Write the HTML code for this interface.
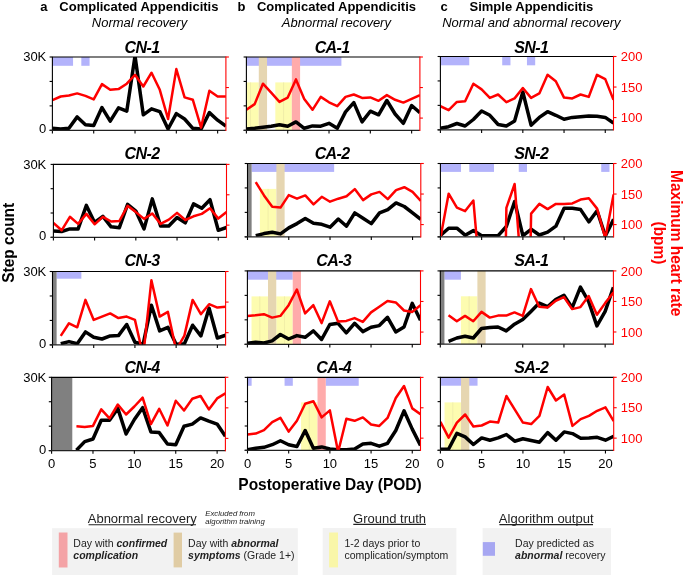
<!DOCTYPE html><html><head><meta charset="utf-8"><style>html,body{margin:0;padding:0;background:#fff}svg{display:block;will-change:transform}text{font-family:"Liberation Sans",sans-serif}</style></head><body>
<svg width="685" height="575" viewBox="0 0 685 575">
<rect width="685" height="575" fill="#fff"/>
<defs>
<clipPath id="c0"><rect x="52.4" y="57" width="173.5" height="73.3"/></clipPath>
<clipPath id="c1"><rect x="246.4" y="57" width="173.5" height="73.3"/></clipPath>
<clipPath id="c2"><rect x="440.4" y="56.5" width="173.1" height="73.3"/></clipPath>
<clipPath id="c3"><rect x="53.4" y="164.4" width="173.1" height="72.9"/></clipPath>
<clipPath id="c4"><rect x="247.5" y="163.5" width="173.3" height="73.3"/></clipPath>
<clipPath id="c5"><rect x="440.4" y="163.5" width="173.2" height="73.3"/></clipPath>
<clipPath id="c6"><rect x="52.5" y="271.5" width="173.1" height="73.4"/></clipPath>
<clipPath id="c7"><rect x="247.4" y="270.9" width="173.1" height="73.4"/></clipPath>
<clipPath id="c8"><rect x="440.3" y="270.9" width="173.1" height="73.3"/></clipPath>
<clipPath id="c9"><rect x="51.6" y="377.3" width="173.8" height="73.3"/></clipPath>
<clipPath id="c10"><rect x="247.5" y="377.4" width="173" height="72.9"/></clipPath>
<clipPath id="c11"><rect x="440.4" y="377.3" width="173.3" height="73"/></clipPath>
</defs>
<text x="40.3" y="10.9" font-size="13" font-weight="bold">a</text>
<text x="59.3" y="10.9" font-size="13" font-weight="bold">Complicated Appendicitis</text>
<text x="139.5" y="26.7" font-size="13" font-style="italic" text-anchor="middle">Normal recovery</text>
<text x="237.5" y="10.9" font-size="13" font-weight="bold">b</text>
<text x="256.9" y="10.9" font-size="13" font-weight="bold">Complicated Appendicitis</text>
<text x="336.4" y="26.7" font-size="13" font-style="italic" text-anchor="middle">Abnormal recovery</text>
<text x="440.6" y="10.9" font-size="13" font-weight="bold">c</text>
<text x="469.5" y="10.9" font-size="13" font-weight="bold">Simple Appendicitis</text>
<text x="531.4" y="26.7" font-size="13" font-style="italic" text-anchor="middle">Normal and abnormal recovery</text>
<text x="142.0" y="52.6" font-size="16" letter-spacing="-0.6" font-weight="bold" font-style="italic" text-anchor="middle">CN-1</text>
<rect x="52.4" y="57" width="20.65" height="8.8" fill="#b3b3fb"/>
<rect x="81.32" y="57" width="8.26" height="8.8" fill="#b3b3fb"/>
<g clip-path="url(#c0)" fill="none" stroke-linejoin="round" stroke-linecap="butt">
<path d="M52.4,128.3 L60.66,129 L68.92,128.3 L77.19,116.9 L85.45,124.7 L93.71,125.5 L101.97,107.6 L110.23,121.2 L118.5,107.9 L126.76,111.2 L135.02,56 L143.28,114.8 L151.54,108.8 L159.8,111.6 L168.07,129 L176.33,113.6 L184.59,119 L192.85,128.3 L201.11,129 L209.38,112.6 L217.64,120.2 L225.9,126.2" stroke="#000" stroke-width="3.5"/>
<path d="M52.4,100.2 L60.66,96.5 L68.92,95.5 L77.19,93.4 L85.45,95.9 L93.71,99.4 L101.97,84.1 L110.23,89.8 L118.5,89.1 L126.76,83.7 L135.02,74.8 L143.28,86.5 L151.54,72.7 L159.8,89.8 L168.07,119 L176.33,69.1 L184.59,97.4 L192.85,99.8 L201.11,127.6 L209.38,90.8 L217.64,96.5 L225.9,96.5" stroke="#f00" stroke-width="2.5"/>
</g>
<line x1="51.9" y1="57" x2="225.9" y2="57" stroke="#000" stroke-width="1.2"/>
<line x1="52.4" y1="57" x2="52.4" y2="133.5" stroke="#000" stroke-width="1.1"/>
<line x1="49.6" y1="130.3" x2="52.4" y2="130.3" stroke="#000" stroke-width="1.1"/>
<line x1="49.6" y1="105.87" x2="52.4" y2="105.87" stroke="#000" stroke-width="1.1"/>
<line x1="49.6" y1="81.43" x2="52.4" y2="81.43" stroke="#000" stroke-width="1.1"/>
<line x1="49.6" y1="57" x2="52.4" y2="57" stroke="#000" stroke-width="1.1"/>
<line x1="49.6" y1="130.3" x2="225.9" y2="130.3" stroke="#222" stroke-width="1.2"/>
<line x1="93.71" y1="130.3" x2="93.71" y2="133.5" stroke="#000" stroke-width="1.1"/>
<line x1="135.02" y1="130.3" x2="135.02" y2="133.5" stroke="#000" stroke-width="1.1"/>
<line x1="176.33" y1="130.3" x2="176.33" y2="133.5" stroke="#000" stroke-width="1.1"/>
<line x1="217.64" y1="130.3" x2="217.64" y2="133.5" stroke="#000" stroke-width="1.1"/>
<line x1="225.9" y1="56.4" x2="225.9" y2="130.9" stroke="#f00" stroke-width="1.1"/>
<line x1="225.9" y1="57" x2="228.9" y2="57" stroke="#f00" stroke-width="1.1"/>
<line x1="225.9" y1="87.54" x2="228.9" y2="87.54" stroke="#f00" stroke-width="1.1"/>
<line x1="225.9" y1="118.08" x2="228.9" y2="118.08" stroke="#f00" stroke-width="1.1"/>
<text x="46.3" y="61.4" font-size="13" text-anchor="end">30K</text>
<text x="46.3" y="133.2" font-size="13" text-anchor="end">0</text>
<text x="332.1" y="52.6" font-size="16" letter-spacing="-0.6" font-weight="bold" font-style="italic" text-anchor="middle">CA-1</text>
<rect x="246.4" y="57" width="95.01" height="8.8" fill="#b3b3fb"/>
<rect x="246.4" y="82.4" width="4.13" height="47.9" fill="#fdfcb0"/>
<rect x="250.53" y="82.4" width="8.26" height="47.9" fill="#fdfcb0"/>
<rect x="275.32" y="82.4" width="8.26" height="47.9" fill="#fdfcb0"/>
<rect x="283.58" y="82.4" width="8.26" height="47.9" fill="#fdfcb0"/>
<rect x="258.79" y="57" width="8.26" height="73.3" fill="#e6d6b1"/>
<rect x="291.84" y="57" width="8.26" height="73.3" fill="#ffabab"/>
<line x1="250.53" y1="82.4" x2="250.53" y2="130.3" stroke="#ebe69c" stroke-width="0.7"/>
<line x1="283.58" y1="82.4" x2="283.58" y2="130.3" stroke="#ebe69c" stroke-width="0.7"/>
<g clip-path="url(#c1)" fill="none" stroke-linejoin="round" stroke-linecap="butt">
<path d="M246.4,129 L254.66,128.3 L262.92,127.3 L271.19,126.2 L279.45,124.7 L287.71,126.2 L295.97,121.9 L304.23,128.3 L312.5,125.9 L320.76,126.2 L329.02,123.3 L337.28,128.3 L345.54,111.9 L353.8,102.6 L362.07,121.9 L370.33,111.2 L378.59,114.8 L386.85,100.5 L395.11,114 L403.38,123.3 L411.64,105.5 L419.9,112.6" stroke="#000" stroke-width="3.5"/>
<path d="M246.4,109.8 L254.66,104.1 L262.92,83.7 L271.19,92.7 L279.45,101.9 L287.71,97.6 L295.97,79.4 L304.23,99.1 L312.5,109.8 L320.76,96.9 L329.02,102.3 L337.28,106.2 L345.54,96.9 L353.8,94.5 L362.07,97.9 L370.33,97.4 L378.59,100.8 L386.85,95.1 L395.11,99.8 L403.38,102.6 L411.64,98.8 L419.9,95.1" stroke="#f00" stroke-width="2.5"/>
</g>
<line x1="245.9" y1="57" x2="419.9" y2="57" stroke="#000" stroke-width="1.2"/>
<line x1="246.4" y1="57" x2="246.4" y2="133.5" stroke="#000" stroke-width="1.1"/>
<line x1="243.6" y1="130.3" x2="246.4" y2="130.3" stroke="#000" stroke-width="1.1"/>
<line x1="243.6" y1="105.87" x2="246.4" y2="105.87" stroke="#000" stroke-width="1.1"/>
<line x1="243.6" y1="81.43" x2="246.4" y2="81.43" stroke="#000" stroke-width="1.1"/>
<line x1="243.6" y1="57" x2="246.4" y2="57" stroke="#000" stroke-width="1.1"/>
<line x1="243.6" y1="130.3" x2="419.9" y2="130.3" stroke="#222" stroke-width="1.2"/>
<line x1="287.71" y1="130.3" x2="287.71" y2="133.5" stroke="#000" stroke-width="1.1"/>
<line x1="329.02" y1="130.3" x2="329.02" y2="133.5" stroke="#000" stroke-width="1.1"/>
<line x1="370.33" y1="130.3" x2="370.33" y2="133.5" stroke="#000" stroke-width="1.1"/>
<line x1="411.64" y1="130.3" x2="411.64" y2="133.5" stroke="#000" stroke-width="1.1"/>
<line x1="419.9" y1="56.4" x2="419.9" y2="130.9" stroke="#f00" stroke-width="1.1"/>
<line x1="419.9" y1="57" x2="422.9" y2="57" stroke="#f00" stroke-width="1.1"/>
<line x1="419.9" y1="87.54" x2="422.9" y2="87.54" stroke="#f00" stroke-width="1.1"/>
<line x1="419.9" y1="118.08" x2="422.9" y2="118.08" stroke="#f00" stroke-width="1.1"/>
<text x="531.3" y="52.6" font-size="16" letter-spacing="-0.6" font-weight="bold" font-style="italic" text-anchor="middle">SN-1</text>
<rect x="440.4" y="56.5" width="28.85" height="8.8" fill="#b3b3fb"/>
<rect x="502.22" y="56.5" width="8.24" height="8.8" fill="#b3b3fb"/>
<rect x="526.95" y="56.5" width="8.24" height="8.8" fill="#b3b3fb"/>
<g clip-path="url(#c2)" fill="none" stroke-linejoin="round" stroke-linecap="butt">
<path d="M440.4,128.3 L448.64,126.7 L456.89,123.5 L465.13,126 L473.37,119.5 L481.61,111 L489.86,115.3 L498.1,124.5 L506.34,126 L514.59,121 L522.83,92 L531.07,125.2 L539.31,117.4 L547.56,111.7 L555.8,115.3 L564.04,119.3 L572.29,117.4 L580.53,116.7 L588.77,116 L597.01,116.3 L605.26,117.4 L613.5,123.1" stroke="#000" stroke-width="3.5"/>
<path d="M440.4,106.2 L448.64,110.2 L456.89,101.9 L465.13,101.2 L473.37,83.7 L481.61,89.4 L489.86,97.9 L498.1,94.5 L506.34,102.2 L514.59,98.4 L522.83,88 L531.07,97.9 L539.31,93.4 L547.56,74.8 L555.8,81.2 L564.04,97.6 L572.29,98.4 L580.53,94.5 L588.77,96.9 L597.01,74.8 L605.26,79.1 L613.5,99.8" stroke="#f00" stroke-width="2.5"/>
</g>
<line x1="439.9" y1="56.5" x2="613.5" y2="56.5" stroke="#000" stroke-width="1.2"/>
<line x1="440.4" y1="56.5" x2="440.4" y2="133" stroke="#000" stroke-width="1.1"/>
<line x1="437.6" y1="129.8" x2="440.4" y2="129.8" stroke="#000" stroke-width="1.1"/>
<line x1="437.6" y1="105.37" x2="440.4" y2="105.37" stroke="#000" stroke-width="1.1"/>
<line x1="437.6" y1="80.93" x2="440.4" y2="80.93" stroke="#000" stroke-width="1.1"/>
<line x1="437.6" y1="56.5" x2="440.4" y2="56.5" stroke="#000" stroke-width="1.1"/>
<line x1="437.6" y1="129.8" x2="613.5" y2="129.8" stroke="#222" stroke-width="1.2"/>
<line x1="481.61" y1="129.8" x2="481.61" y2="133" stroke="#000" stroke-width="1.1"/>
<line x1="522.83" y1="129.8" x2="522.83" y2="133" stroke="#000" stroke-width="1.1"/>
<line x1="564.04" y1="129.8" x2="564.04" y2="133" stroke="#000" stroke-width="1.1"/>
<line x1="605.26" y1="129.8" x2="605.26" y2="133" stroke="#000" stroke-width="1.1"/>
<line x1="613.5" y1="55.9" x2="613.5" y2="130.4" stroke="#f00" stroke-width="1.1"/>
<line x1="613.5" y1="56.5" x2="616.5" y2="56.5" stroke="#f00" stroke-width="1.1"/>
<line x1="613.5" y1="87.04" x2="616.5" y2="87.04" stroke="#f00" stroke-width="1.1"/>
<line x1="613.5" y1="117.58" x2="616.5" y2="117.58" stroke="#f00" stroke-width="1.1"/>
<text x="620.8" y="61.1" font-size="13" fill="#f00">200</text>
<text x="620.8" y="91.64" font-size="13" fill="#f00">150</text>
<text x="620.8" y="122.18" font-size="13" fill="#f00">100</text>
<text x="142.0" y="159.0" font-size="16" letter-spacing="-0.6" font-weight="bold" font-style="italic" text-anchor="middle">CN-2</text>
<g clip-path="url(#c3)" fill="none" stroke-linejoin="round" stroke-linecap="butt">
<path d="M53.4,231 L61.64,231.5 L69.89,228.9 L78.13,228.9 L86.37,205.4 L94.61,222.5 L102.86,216.3 L111.1,226.8 L119.34,227.7 L127.59,204.4 L135.83,211.1 L144.07,228.9 L152.31,198.9 L160.56,226 L168.8,226 L177.04,217.5 L185.29,222.9 L193.53,203.9 L201.77,208.2 L210.01,199.7 L218.26,230.3 L226.5,227.5" stroke="#000" stroke-width="3.5"/>
<path d="M53.4,222.9 L61.64,230.3 L69.89,216.8 L78.13,223.9 L86.37,213.9 L94.61,224.3 L102.86,216.8 L111.1,221.5 L119.34,221 L127.59,205.8 L135.83,212.1 L144.07,218.9 L152.31,213.5 L160.56,223.9 L168.8,219.6 L177.04,212.9 L185.29,220 L193.53,216.3 L201.77,213.9 L210.01,208.2 L218.26,218.6 L226.5,212.1" stroke="#f00" stroke-width="2.5"/>
</g>
<line x1="52.9" y1="164.4" x2="226.5" y2="164.4" stroke="#000" stroke-width="1.2"/>
<line x1="53.4" y1="164.4" x2="53.4" y2="240.5" stroke="#000" stroke-width="1.1"/>
<line x1="50.6" y1="237.3" x2="53.4" y2="237.3" stroke="#000" stroke-width="1.1"/>
<line x1="50.6" y1="213" x2="53.4" y2="213" stroke="#000" stroke-width="1.1"/>
<line x1="50.6" y1="188.7" x2="53.4" y2="188.7" stroke="#000" stroke-width="1.1"/>
<line x1="50.6" y1="164.4" x2="53.4" y2="164.4" stroke="#000" stroke-width="1.1"/>
<line x1="50.6" y1="237.3" x2="226.5" y2="237.3" stroke="#222" stroke-width="1.2"/>
<line x1="94.61" y1="237.3" x2="94.61" y2="240.5" stroke="#000" stroke-width="1.1"/>
<line x1="135.83" y1="237.3" x2="135.83" y2="240.5" stroke="#000" stroke-width="1.1"/>
<line x1="177.04" y1="237.3" x2="177.04" y2="240.5" stroke="#000" stroke-width="1.1"/>
<line x1="218.26" y1="237.3" x2="218.26" y2="240.5" stroke="#000" stroke-width="1.1"/>
<line x1="226.5" y1="163.8" x2="226.5" y2="237.9" stroke="#f00" stroke-width="1.1"/>
<line x1="226.5" y1="164.4" x2="229.5" y2="164.4" stroke="#f00" stroke-width="1.1"/>
<line x1="226.5" y1="194.78" x2="229.5" y2="194.78" stroke="#f00" stroke-width="1.1"/>
<line x1="226.5" y1="225.15" x2="229.5" y2="225.15" stroke="#f00" stroke-width="1.1"/>
<text x="46.3" y="168.8" font-size="13" text-anchor="end">30K</text>
<text x="46.3" y="240.2" font-size="13" text-anchor="end">0</text>
<text x="332.1" y="159.0" font-size="16" letter-spacing="-0.6" font-weight="bold" font-style="italic" text-anchor="middle">CA-2</text>
<rect x="251.63" y="163.5" width="82.52" height="8.4" fill="#b3b3fb"/>
<rect x="259.88" y="188.9" width="8.25" height="47.9" fill="#fdfcb0"/>
<rect x="268.13" y="188.9" width="8.25" height="47.9" fill="#fdfcb0"/>
<rect x="247.5" y="163.5" width="4.13" height="73.3" fill="#808080"/>
<rect x="276.38" y="163.5" width="8.25" height="73.3" fill="#e6d6b1"/>
<line x1="268.13" y1="188.9" x2="268.13" y2="236.8" stroke="#ebe69c" stroke-width="0.7"/>
<g clip-path="url(#c4)" fill="none" stroke-linejoin="round" stroke-linecap="butt">
<path d="M255.75,235.7 L264,233.6 L272.26,232.2 L280.51,233.9 L288.76,227.9 L297.01,223.6 L305.27,218.6 L313.52,223.3 L321.77,224.3 L330.02,227.2 L338.28,219 L346.53,226.2 L354.78,212.9 L363.03,218.2 L371.29,223.6 L379.54,212.9 L387.79,209.6 L396.04,202.9 L404.3,206.5 L412.55,212.9 L420.8,219.3" stroke="#000" stroke-width="3.5"/>
<path d="M255.75,182.2 L264,195.4 L272.26,206.8 L280.51,207.6 L288.76,195.1 L297.01,198.7 L305.27,195.4 L313.52,204.4 L321.77,196.8 L330.02,201.7 L338.28,198.7 L346.53,196.2 L354.78,189.1 L363.03,200.1 L371.29,194.4 L379.54,191.9 L387.79,199.1 L396.04,190.1 L404.3,187.2 L412.55,191.9 L420.8,200.8" stroke="#f00" stroke-width="2.5"/>
</g>
<line x1="247" y1="163.5" x2="420.8" y2="163.5" stroke="#000" stroke-width="1.2"/>
<line x1="247.5" y1="163.5" x2="247.5" y2="240" stroke="#000" stroke-width="1.1"/>
<line x1="244.7" y1="236.8" x2="247.5" y2="236.8" stroke="#000" stroke-width="1.1"/>
<line x1="244.7" y1="212.37" x2="247.5" y2="212.37" stroke="#000" stroke-width="1.1"/>
<line x1="244.7" y1="187.93" x2="247.5" y2="187.93" stroke="#000" stroke-width="1.1"/>
<line x1="244.7" y1="163.5" x2="247.5" y2="163.5" stroke="#000" stroke-width="1.1"/>
<line x1="244.7" y1="236.8" x2="420.8" y2="236.8" stroke="#222" stroke-width="1.2"/>
<line x1="288.76" y1="236.8" x2="288.76" y2="240" stroke="#000" stroke-width="1.1"/>
<line x1="330.02" y1="236.8" x2="330.02" y2="240" stroke="#000" stroke-width="1.1"/>
<line x1="371.29" y1="236.8" x2="371.29" y2="240" stroke="#000" stroke-width="1.1"/>
<line x1="412.55" y1="236.8" x2="412.55" y2="240" stroke="#000" stroke-width="1.1"/>
<line x1="420.8" y1="162.9" x2="420.8" y2="237.4" stroke="#f00" stroke-width="1.1"/>
<line x1="420.8" y1="163.5" x2="423.8" y2="163.5" stroke="#f00" stroke-width="1.1"/>
<line x1="420.8" y1="194.04" x2="423.8" y2="194.04" stroke="#f00" stroke-width="1.1"/>
<line x1="420.8" y1="224.58" x2="423.8" y2="224.58" stroke="#f00" stroke-width="1.1"/>
<text x="531.3" y="159.0" font-size="16" letter-spacing="-0.6" font-weight="bold" font-style="italic" text-anchor="middle">SN-2</text>
<rect x="440.4" y="163.5" width="20.62" height="8.4" fill="#b3b3fb"/>
<rect x="469.27" y="163.5" width="24.74" height="8.4" fill="#b3b3fb"/>
<rect x="518.75" y="163.5" width="8.25" height="8.4" fill="#b3b3fb"/>
<rect x="601.23" y="163.5" width="8.25" height="8.4" fill="#b3b3fb"/>
<g clip-path="url(#c5)" fill="none" stroke-linejoin="round" stroke-linecap="butt">
<path d="M440.4,235.5 L448.65,228.2 L456.9,228.2 L465.14,235.2 L473.39,230.6 L481.64,235.7 L489.89,235.7 L498.13,235.7 L506.38,226.5 L514.63,201.5 L522.88,235.7 L531.12,229.3 L539.37,235 L547.62,232.2 L555.87,226.2 L564.11,208.2 L572.36,208.2 L580.61,209.6 L588.86,221.9 L597.1,210.8 L605.35,236 L613.6,219.3" stroke="#000" stroke-width="3.5"/>
<path d="M440.6,237.1 L448.65,193.7 L456.9,207.6 L465.14,211.1 L473.39,200.5 L476.79,239.8M505.88,239.8 L506.38,207.9 L514.63,184 L518.93,239.8M530.62,239.8 L531.12,213.6 L539.37,203.9 L547.62,209.1 L555.87,203.9 L564.11,203.9 L572.36,203.4 L580.61,199.6 L588.86,198.2 L597.1,208.6 L605.35,238.3 L613.6,194.4" stroke="#f00" stroke-width="2.5"/>
</g>
<line x1="439.9" y1="163.5" x2="613.6" y2="163.5" stroke="#000" stroke-width="1.2"/>
<line x1="440.4" y1="163.5" x2="440.4" y2="240" stroke="#000" stroke-width="1.1"/>
<line x1="437.6" y1="236.8" x2="440.4" y2="236.8" stroke="#000" stroke-width="1.1"/>
<line x1="437.6" y1="212.37" x2="440.4" y2="212.37" stroke="#000" stroke-width="1.1"/>
<line x1="437.6" y1="187.93" x2="440.4" y2="187.93" stroke="#000" stroke-width="1.1"/>
<line x1="437.6" y1="163.5" x2="440.4" y2="163.5" stroke="#000" stroke-width="1.1"/>
<line x1="437.6" y1="236.8" x2="613.6" y2="236.8" stroke="#222" stroke-width="1.2"/>
<line x1="481.64" y1="236.8" x2="481.64" y2="240" stroke="#000" stroke-width="1.1"/>
<line x1="522.88" y1="236.8" x2="522.88" y2="240" stroke="#000" stroke-width="1.1"/>
<line x1="564.11" y1="236.8" x2="564.11" y2="240" stroke="#000" stroke-width="1.1"/>
<line x1="605.35" y1="236.8" x2="605.35" y2="240" stroke="#000" stroke-width="1.1"/>
<line x1="613.6" y1="162.9" x2="613.6" y2="237.4" stroke="#f00" stroke-width="1.1"/>
<line x1="613.6" y1="163.5" x2="616.6" y2="163.5" stroke="#f00" stroke-width="1.1"/>
<line x1="613.6" y1="194.04" x2="616.6" y2="194.04" stroke="#f00" stroke-width="1.1"/>
<line x1="613.6" y1="224.58" x2="616.6" y2="224.58" stroke="#f00" stroke-width="1.1"/>
<text x="620.8" y="168.1" font-size="13" fill="#f00">200</text>
<text x="620.8" y="198.64" font-size="13" fill="#f00">150</text>
<text x="620.8" y="229.18" font-size="13" fill="#f00">100</text>
<text x="142.0" y="265.6" font-size="16" letter-spacing="-0.6" font-weight="bold" font-style="italic" text-anchor="middle">CN-3</text>
<rect x="56.62" y="271.5" width="24.73" height="7.2" fill="#b3b3fb"/>
<rect x="52.5" y="271.5" width="4.12" height="73.4" fill="#808080"/>
<g clip-path="url(#c6)" fill="none" stroke-linejoin="round" stroke-linecap="butt">
<path d="M60.74,343.7 L68.99,341.6 L77.23,343.7 L85.47,331.9 L93.71,337.3 L101.96,339 L110.2,335.9 L118.44,335.6 L126.69,324.5 L134.93,342.3 L143.17,344.2 L151.41,305.2 L159.66,330.9 L167.9,327.3 L176.14,344.2 L184.39,343.7 L192.63,325.2 L200.87,335.9 L209.11,308.1 L217.36,338 L225.6,335.2" stroke="#000" stroke-width="3.5"/>
<path d="M60.74,335.9 L68.99,323.3 L77.23,327.3 L85.47,299.9 L93.71,319.9 L101.96,316.6 L110.2,313.4 L118.44,318.1 L126.69,316.6 L134.93,319.9 L143.17,356 L151.41,280.3 L159.66,316.6 L167.9,311.9 L176.14,350 L184.39,335.6 L192.63,299.9 L200.87,314.2 L209.11,304.2 L217.36,307.6 L225.6,306.7" stroke="#f00" stroke-width="2.5"/>
</g>
<line x1="52" y1="271.5" x2="225.6" y2="271.5" stroke="#000" stroke-width="1.2"/>
<line x1="52.5" y1="271.5" x2="52.5" y2="348.1" stroke="#000" stroke-width="1.1"/>
<line x1="49.7" y1="344.9" x2="52.5" y2="344.9" stroke="#000" stroke-width="1.1"/>
<line x1="49.7" y1="320.43" x2="52.5" y2="320.43" stroke="#000" stroke-width="1.1"/>
<line x1="49.7" y1="295.97" x2="52.5" y2="295.97" stroke="#000" stroke-width="1.1"/>
<line x1="49.7" y1="271.5" x2="52.5" y2="271.5" stroke="#000" stroke-width="1.1"/>
<line x1="49.7" y1="344.9" x2="225.6" y2="344.9" stroke="#222" stroke-width="1.2"/>
<line x1="93.71" y1="344.9" x2="93.71" y2="348.1" stroke="#000" stroke-width="1.1"/>
<line x1="134.93" y1="344.9" x2="134.93" y2="348.1" stroke="#000" stroke-width="1.1"/>
<line x1="176.14" y1="344.9" x2="176.14" y2="348.1" stroke="#000" stroke-width="1.1"/>
<line x1="217.36" y1="344.9" x2="217.36" y2="348.1" stroke="#000" stroke-width="1.1"/>
<line x1="225.6" y1="270.9" x2="225.6" y2="345.5" stroke="#f00" stroke-width="1.1"/>
<line x1="225.6" y1="271.5" x2="228.6" y2="271.5" stroke="#f00" stroke-width="1.1"/>
<line x1="225.6" y1="302.08" x2="228.6" y2="302.08" stroke="#f00" stroke-width="1.1"/>
<line x1="225.6" y1="332.67" x2="228.6" y2="332.67" stroke="#f00" stroke-width="1.1"/>
<text x="46.3" y="275.9" font-size="13" text-anchor="end">30K</text>
<text x="46.3" y="347.8" font-size="13" text-anchor="end">0</text>
<text x="333.7" y="265.6" font-size="16" letter-spacing="-0.6" font-weight="bold" font-style="italic" text-anchor="middle">CA-3</text>
<rect x="247.4" y="270.9" width="45.34" height="8.8" fill="#b3b3fb"/>
<rect x="251.52" y="296.4" width="8.24" height="47.9" fill="#fdfcb0"/>
<rect x="259.76" y="296.4" width="8.24" height="47.9" fill="#fdfcb0"/>
<rect x="276.25" y="296.4" width="8.24" height="47.9" fill="#fdfcb0"/>
<rect x="284.49" y="296.4" width="8.24" height="47.9" fill="#fdfcb0"/>
<rect x="268.01" y="270.9" width="8.24" height="73.4" fill="#e6d6b1"/>
<rect x="292.74" y="270.9" width="8.24" height="73.4" fill="#ffabab"/>
<line x1="259.76" y1="296.4" x2="259.76" y2="344.3" stroke="#ebe69c" stroke-width="0.7"/>
<line x1="284.49" y1="296.4" x2="284.49" y2="344.3" stroke="#ebe69c" stroke-width="0.7"/>
<g clip-path="url(#c7)" fill="none" stroke-linejoin="round" stroke-linecap="butt">
<path d="M247.4,343.3 L255.64,342.3 L263.89,343 L272.13,340.9 L280.37,334.5 L288.61,339 L296.86,335.6 L305.1,337.3 L313.34,330.9 L321.59,339.5 L329.83,324.5 L338.07,323.3 L346.31,332.8 L354.56,323.3 L362.8,331.6 L371.04,327.3 L379.29,325.6 L387.53,317.3 L395.77,331.9 L404.01,327 L412.26,303.4 L420.5,320.2" stroke="#000" stroke-width="3.5"/>
<path d="M247.4,315.9 L255.64,315.2 L263.89,314.2 L272.13,317.6 L280.37,315.9 L288.61,305.2 L296.86,289.5 L305.1,313.4 L313.34,305.2 L321.59,323.1 L329.83,301.3 L338.07,321.6 L346.31,320.9 L354.56,318.1 L362.8,321.9 L371.04,312.4 L379.29,306.7 L387.53,300.9 L395.77,302.4 L404.01,310.5 L412.26,311.9 L420.5,305.2" stroke="#f00" stroke-width="2.5"/>
</g>
<line x1="246.9" y1="270.9" x2="420.5" y2="270.9" stroke="#000" stroke-width="1.2"/>
<line x1="247.4" y1="270.9" x2="247.4" y2="347.5" stroke="#000" stroke-width="1.1"/>
<line x1="244.6" y1="344.3" x2="247.4" y2="344.3" stroke="#000" stroke-width="1.1"/>
<line x1="244.6" y1="319.83" x2="247.4" y2="319.83" stroke="#000" stroke-width="1.1"/>
<line x1="244.6" y1="295.37" x2="247.4" y2="295.37" stroke="#000" stroke-width="1.1"/>
<line x1="244.6" y1="270.9" x2="247.4" y2="270.9" stroke="#000" stroke-width="1.1"/>
<line x1="244.6" y1="344.3" x2="420.5" y2="344.3" stroke="#222" stroke-width="1.2"/>
<line x1="288.61" y1="344.3" x2="288.61" y2="347.5" stroke="#000" stroke-width="1.1"/>
<line x1="329.83" y1="344.3" x2="329.83" y2="347.5" stroke="#000" stroke-width="1.1"/>
<line x1="371.04" y1="344.3" x2="371.04" y2="347.5" stroke="#000" stroke-width="1.1"/>
<line x1="412.26" y1="344.3" x2="412.26" y2="347.5" stroke="#000" stroke-width="1.1"/>
<line x1="420.5" y1="270.3" x2="420.5" y2="344.9" stroke="#f00" stroke-width="1.1"/>
<line x1="420.5" y1="270.9" x2="423.5" y2="270.9" stroke="#f00" stroke-width="1.1"/>
<line x1="420.5" y1="301.48" x2="423.5" y2="301.48" stroke="#f00" stroke-width="1.1"/>
<line x1="420.5" y1="332.07" x2="423.5" y2="332.07" stroke="#f00" stroke-width="1.1"/>
<text x="531.3" y="265.6" font-size="16" letter-spacing="-0.6" font-weight="bold" font-style="italic" text-anchor="middle">SA-1</text>
<rect x="444.42" y="270.9" width="16.49" height="8.8" fill="#b3b3fb"/>
<rect x="460.91" y="296.3" width="8.24" height="47.9" fill="#fdfcb0"/>
<rect x="469.15" y="296.3" width="8.24" height="47.9" fill="#fdfcb0"/>
<rect x="440.3" y="270.9" width="4.12" height="73.3" fill="#808080"/>
<rect x="477.39" y="270.9" width="8.24" height="73.3" fill="#e6d6b1"/>
<line x1="469.15" y1="296.3" x2="469.15" y2="344.2" stroke="#ebe69c" stroke-width="0.7"/>
<g clip-path="url(#c8)" fill="none" stroke-linejoin="round" stroke-linecap="butt">
<path d="M448.54,341.3 L456.79,338 L465.03,336.2 L473.27,338 L481.51,328.5 L489.76,327.6 L498,327 L506.24,330.9 L514.49,324.2 L522.73,319.5 L530.97,311.4 L539.21,303.1 L547.46,306.7 L555.7,299.5 L563.94,295.2 L572.19,307.6 L580.43,287.1 L588.67,301.7 L596.91,325.9 L605.16,311.4 L613.4,287.4" stroke="#000" stroke-width="3.5"/>
<path d="M448.54,315.2 L456.79,321.3 L465.03,315.9 L473.27,321.3 L481.51,311.9 L489.76,317.6 L498,315.6 L506.24,315.6 L514.49,312.4 L522.73,315.9 L530.97,289.1 L539.21,306.7 L547.46,307.6 L555.7,300.9 L563.94,297.1 L572.19,309.1 L580.43,307.1 L588.67,296 L596.91,314.8 L605.16,303.1 L613.4,292.4" stroke="#f00" stroke-width="2.5"/>
</g>
<line x1="439.8" y1="270.9" x2="613.4" y2="270.9" stroke="#000" stroke-width="1.2"/>
<line x1="440.3" y1="270.9" x2="440.3" y2="347.4" stroke="#000" stroke-width="1.1"/>
<line x1="437.5" y1="344.2" x2="440.3" y2="344.2" stroke="#000" stroke-width="1.1"/>
<line x1="437.5" y1="319.77" x2="440.3" y2="319.77" stroke="#000" stroke-width="1.1"/>
<line x1="437.5" y1="295.33" x2="440.3" y2="295.33" stroke="#000" stroke-width="1.1"/>
<line x1="437.5" y1="270.9" x2="440.3" y2="270.9" stroke="#000" stroke-width="1.1"/>
<line x1="437.5" y1="344.2" x2="613.4" y2="344.2" stroke="#222" stroke-width="1.2"/>
<line x1="481.51" y1="344.2" x2="481.51" y2="347.4" stroke="#000" stroke-width="1.1"/>
<line x1="522.73" y1="344.2" x2="522.73" y2="347.4" stroke="#000" stroke-width="1.1"/>
<line x1="563.94" y1="344.2" x2="563.94" y2="347.4" stroke="#000" stroke-width="1.1"/>
<line x1="605.16" y1="344.2" x2="605.16" y2="347.4" stroke="#000" stroke-width="1.1"/>
<line x1="613.4" y1="270.3" x2="613.4" y2="344.8" stroke="#f00" stroke-width="1.1"/>
<line x1="613.4" y1="270.9" x2="616.4" y2="270.9" stroke="#f00" stroke-width="1.1"/>
<line x1="613.4" y1="301.44" x2="616.4" y2="301.44" stroke="#f00" stroke-width="1.1"/>
<line x1="613.4" y1="331.98" x2="616.4" y2="331.98" stroke="#f00" stroke-width="1.1"/>
<text x="620.8" y="275.5" font-size="13" fill="#f00">200</text>
<text x="620.8" y="306.04" font-size="13" fill="#f00">150</text>
<text x="620.8" y="336.58" font-size="13" fill="#f00">100</text>
<text x="142.0" y="372.6" font-size="16" letter-spacing="-0.6" font-weight="bold" font-style="italic" text-anchor="middle">CN-4</text>
<rect x="51.6" y="377.3" width="20.69" height="73.3" fill="#808080"/>
<g clip-path="url(#c9)" fill="none" stroke-linejoin="round" stroke-linecap="butt">
<path d="M76.43,450.2 L84.7,441.6 L92.98,439 L101.26,420.2 L109.53,420.2 L117.81,408.4 L126.09,434 L134.36,419.5 L142.64,407.7 L150.91,431.9 L159.19,432.6 L167.47,444 L175.74,444.7 L184.02,426.2 L192.3,424.1 L200.57,417.9 L208.85,421.2 L217.12,424.1 L225.4,436.2" stroke="#000" stroke-width="3.5"/>
<path d="M76.43,426.2 L84.7,426.9 L92.98,425.9 L101.26,409.4 L109.53,418.4 L117.81,404.5 L126.09,414.5 L134.36,406.5 L142.64,397.7 L150.91,424.1 L159.19,408.8 L167.47,425.5 L175.74,400.8 L184.02,410.5 L192.3,398.8 L200.57,396 L208.85,409.4 L217.12,398.4 L225.4,393.4" stroke="#f00" stroke-width="2.5"/>
</g>
<line x1="51.1" y1="377.3" x2="225.4" y2="377.3" stroke="#000" stroke-width="1.2"/>
<line x1="51.6" y1="377.3" x2="51.6" y2="453.8" stroke="#000" stroke-width="1.1"/>
<line x1="48.8" y1="450.6" x2="51.6" y2="450.6" stroke="#000" stroke-width="1.1"/>
<line x1="48.8" y1="426.17" x2="51.6" y2="426.17" stroke="#000" stroke-width="1.1"/>
<line x1="48.8" y1="401.73" x2="51.6" y2="401.73" stroke="#000" stroke-width="1.1"/>
<line x1="48.8" y1="377.3" x2="51.6" y2="377.3" stroke="#000" stroke-width="1.1"/>
<line x1="48.8" y1="450.6" x2="225.4" y2="450.6" stroke="#222" stroke-width="1.2"/>
<line x1="92.98" y1="450.6" x2="92.98" y2="453.8" stroke="#000" stroke-width="1.1"/>
<line x1="134.36" y1="450.6" x2="134.36" y2="453.8" stroke="#000" stroke-width="1.1"/>
<line x1="175.74" y1="450.6" x2="175.74" y2="453.8" stroke="#000" stroke-width="1.1"/>
<line x1="217.12" y1="450.6" x2="217.12" y2="453.8" stroke="#000" stroke-width="1.1"/>
<line x1="225.4" y1="376.7" x2="225.4" y2="451.2" stroke="#f00" stroke-width="1.1"/>
<line x1="225.4" y1="377.3" x2="228.4" y2="377.3" stroke="#f00" stroke-width="1.1"/>
<line x1="225.4" y1="407.84" x2="228.4" y2="407.84" stroke="#f00" stroke-width="1.1"/>
<line x1="225.4" y1="438.38" x2="228.4" y2="438.38" stroke="#f00" stroke-width="1.1"/>
<text x="46.3" y="381.7" font-size="13" text-anchor="end">30K</text>
<text x="46.3" y="453.5" font-size="13" text-anchor="end">0</text>
<text x="51.6" y="467.8" font-size="13" text-anchor="middle">0</text>
<text x="92.98" y="467.8" font-size="13" text-anchor="middle">5</text>
<text x="134.36" y="467.8" font-size="13" text-anchor="middle">10</text>
<text x="175.74" y="467.8" font-size="13" text-anchor="middle">15</text>
<text x="217.12" y="467.8" font-size="13" text-anchor="middle">20</text>
<text x="333.7" y="372.6" font-size="16" letter-spacing="-0.6" font-weight="bold" font-style="italic" text-anchor="middle">CA-4</text>
<rect x="247.5" y="377.4" width="4.12" height="8.4" fill="#b3b3fb"/>
<rect x="284.57" y="377.4" width="8.24" height="8.4" fill="#b3b3fb"/>
<rect x="325.76" y="377.4" width="32.95" height="8.4" fill="#b3b3fb"/>
<rect x="301.05" y="402.4" width="8.24" height="47.9" fill="#fdfcb0"/>
<rect x="309.29" y="402.4" width="8.24" height="47.9" fill="#fdfcb0"/>
<rect x="317.52" y="377.4" width="8.24" height="72.9" fill="#ffabab"/>
<line x1="309.29" y1="402.4" x2="309.29" y2="450.3" stroke="#ebe69c" stroke-width="0.7"/>
<g clip-path="url(#c10)" fill="none" stroke-linejoin="round" stroke-linecap="butt">
<path d="M247.5,449.7 L255.74,448.3 L263.98,447.3 L272.21,444.7 L280.45,440.7 L288.69,444.7 L296.93,446.5 L305.17,430.5 L313.4,448.3 L321.64,446.9 L329.88,449 L338.12,449.7 L346.36,449.7 L354.6,449 L362.83,444 L371.07,443.3 L379.31,446.2 L387.55,443.3 L395.79,430.5 L404.02,410.8 L412.26,429.1 L420.5,445.5" stroke="#000" stroke-width="3.5"/>
<path d="M247.5,434.5 L255.74,433.6 L263.98,430.2 L272.21,422.2 L280.45,417.9 L288.69,431.6 L296.93,420.8 L305.17,403.7 L313.4,401.2 L321.64,417.4 L329.88,410.4 L338.12,452 L346.36,418.8 L354.6,420.8 L362.83,417.4 L371.07,424.5 L379.31,425.9 L387.55,417.9 L395.79,398 L404.02,386 L412.26,408.4 L420.5,414.1" stroke="#f00" stroke-width="2.5"/>
</g>
<line x1="247" y1="377.4" x2="420.5" y2="377.4" stroke="#000" stroke-width="1.2"/>
<line x1="247.5" y1="377.4" x2="247.5" y2="453.5" stroke="#000" stroke-width="1.1"/>
<line x1="244.7" y1="450.3" x2="247.5" y2="450.3" stroke="#000" stroke-width="1.1"/>
<line x1="244.7" y1="426" x2="247.5" y2="426" stroke="#000" stroke-width="1.1"/>
<line x1="244.7" y1="401.7" x2="247.5" y2="401.7" stroke="#000" stroke-width="1.1"/>
<line x1="244.7" y1="377.4" x2="247.5" y2="377.4" stroke="#000" stroke-width="1.1"/>
<line x1="244.7" y1="450.3" x2="420.5" y2="450.3" stroke="#222" stroke-width="1.2"/>
<line x1="288.69" y1="450.3" x2="288.69" y2="453.5" stroke="#000" stroke-width="1.1"/>
<line x1="329.88" y1="450.3" x2="329.88" y2="453.5" stroke="#000" stroke-width="1.1"/>
<line x1="371.07" y1="450.3" x2="371.07" y2="453.5" stroke="#000" stroke-width="1.1"/>
<line x1="412.26" y1="450.3" x2="412.26" y2="453.5" stroke="#000" stroke-width="1.1"/>
<line x1="420.5" y1="376.8" x2="420.5" y2="450.9" stroke="#f00" stroke-width="1.1"/>
<line x1="420.5" y1="377.4" x2="423.5" y2="377.4" stroke="#f00" stroke-width="1.1"/>
<line x1="420.5" y1="407.77" x2="423.5" y2="407.77" stroke="#f00" stroke-width="1.1"/>
<line x1="420.5" y1="438.15" x2="423.5" y2="438.15" stroke="#f00" stroke-width="1.1"/>
<text x="247.5" y="467.8" font-size="13" text-anchor="middle">0</text>
<text x="288.69" y="467.8" font-size="13" text-anchor="middle">5</text>
<text x="329.88" y="467.8" font-size="13" text-anchor="middle">10</text>
<text x="371.07" y="467.8" font-size="13" text-anchor="middle">15</text>
<text x="412.26" y="467.8" font-size="13" text-anchor="middle">20</text>
<text x="531.3" y="372.6" font-size="16" letter-spacing="-0.6" font-weight="bold" font-style="italic" text-anchor="middle">SA-2</text>
<rect x="440.4" y="377.3" width="37.14" height="8.4" fill="#b3b3fb"/>
<rect x="444.53" y="402.4" width="8.25" height="47.9" fill="#fdfcb0"/>
<rect x="452.78" y="402.4" width="8.25" height="47.9" fill="#fdfcb0"/>
<rect x="461.03" y="377.3" width="8.25" height="73" fill="#e6d6b1"/>
<line x1="452.78" y1="402.4" x2="452.78" y2="450.3" stroke="#ebe69c" stroke-width="0.7"/>
<g clip-path="url(#c11)" fill="none" stroke-linejoin="round" stroke-linecap="butt">
<path d="M440.4,449.3 L448.65,449 L456.9,433.3 L465.16,436.9 L473.41,444.5 L481.66,437.9 L489.91,440.2 L498.17,437.9 L506.42,434.5 L514.67,441.2 L522.92,438.8 L531.18,440.5 L539.43,442.2 L547.68,432.6 L555.93,440.2 L564.19,431.9 L572.44,433.6 L580.69,438.3 L588.94,437.9 L597.2,437.3 L605.45,440.2 L613.7,436.2" stroke="#000" stroke-width="3.5"/>
<path d="M440.4,421.9 L448.65,437.6 L456.9,422.6 L465.16,414.5 L473.41,426.5 L481.66,425.5 L489.91,421.6 L498.17,422.6 L506.42,396 L514.67,409.4 L522.92,422.6 L531.18,424.1 L539.43,415.9 L547.68,387 L555.93,400.5 L564.19,394.5 L572.44,425.9 L580.69,419.1 L588.94,415.9 L597.2,410.8 L605.45,407.4 L613.7,421.2" stroke="#f00" stroke-width="2.5"/>
</g>
<line x1="439.9" y1="377.3" x2="613.7" y2="377.3" stroke="#000" stroke-width="1.2"/>
<line x1="440.4" y1="377.3" x2="440.4" y2="453.5" stroke="#000" stroke-width="1.1"/>
<line x1="437.6" y1="450.3" x2="440.4" y2="450.3" stroke="#000" stroke-width="1.1"/>
<line x1="437.6" y1="425.97" x2="440.4" y2="425.97" stroke="#000" stroke-width="1.1"/>
<line x1="437.6" y1="401.63" x2="440.4" y2="401.63" stroke="#000" stroke-width="1.1"/>
<line x1="437.6" y1="377.3" x2="440.4" y2="377.3" stroke="#000" stroke-width="1.1"/>
<line x1="437.6" y1="450.3" x2="613.7" y2="450.3" stroke="#222" stroke-width="1.2"/>
<line x1="481.66" y1="450.3" x2="481.66" y2="453.5" stroke="#000" stroke-width="1.1"/>
<line x1="522.92" y1="450.3" x2="522.92" y2="453.5" stroke="#000" stroke-width="1.1"/>
<line x1="564.19" y1="450.3" x2="564.19" y2="453.5" stroke="#000" stroke-width="1.1"/>
<line x1="605.45" y1="450.3" x2="605.45" y2="453.5" stroke="#000" stroke-width="1.1"/>
<line x1="613.7" y1="376.7" x2="613.7" y2="450.9" stroke="#f00" stroke-width="1.1"/>
<line x1="613.7" y1="377.3" x2="616.7" y2="377.3" stroke="#f00" stroke-width="1.1"/>
<line x1="613.7" y1="407.72" x2="616.7" y2="407.72" stroke="#f00" stroke-width="1.1"/>
<line x1="613.7" y1="438.13" x2="616.7" y2="438.13" stroke="#f00" stroke-width="1.1"/>
<text x="620.8" y="381.9" font-size="13" fill="#f00">200</text>
<text x="620.8" y="412.32" font-size="13" fill="#f00">150</text>
<text x="620.8" y="442.73" font-size="13" fill="#f00">100</text>
<text x="440.4" y="467.8" font-size="13" text-anchor="middle">0</text>
<text x="481.66" y="467.8" font-size="13" text-anchor="middle">5</text>
<text x="522.92" y="467.8" font-size="13" text-anchor="middle">10</text>
<text x="564.19" y="467.8" font-size="13" text-anchor="middle">15</text>
<text x="605.45" y="467.8" font-size="13" text-anchor="middle">20</text>
<text transform="translate(13.7,242.8) rotate(-90) scale(1,1.06)" font-size="15.5" font-weight="bold" text-anchor="middle">Step count</text>
<text transform="translate(671.3,243.2) rotate(90) scale(1,1.05)" font-size="15.5" font-weight="bold" fill="#f00" text-anchor="middle">Maximum heart rate</text>
<text transform="translate(653.5,243) rotate(90) scale(1,1.05)" font-size="15.5" font-weight="bold" fill="#f00" text-anchor="middle">(bpm)</text>
<text transform="translate(330,489.5) scale(1,1.06)" font-size="15.5" font-weight="bold" text-anchor="middle">Postoperative Day (POD)</text>
<rect x="52.1" y="528.2" width="245.7" height="47" fill="#f2f2f2"/>
<rect x="322.7" y="528" width="133.7" height="47" fill="#f2f2f2"/>
<rect x="482.6" y="528.1" width="128.4" height="47" fill="#f2f2f2"/>
<rect x="58.8" y="532.5" width="8.7" height="35" fill="#f4a3a6"/>
<rect x="173.6" y="532.6" width="8.4" height="34.8" fill="#e0cca4"/>
<rect x="329.1" y="532.5" width="8.9" height="34.9" fill="#f9f6a8"/>
<rect x="482.8" y="542.1" width="12.2" height="13.7" fill="#a7a7f2"/>
<text x="142.3" y="523.3" font-size="13" text-anchor="middle" fill="#222">Abnormal recovery</text>
<line x1="88.6" y1="524.8" x2="196" y2="524.8" stroke="#222" stroke-width="1.1"/>
<text x="205.3" y="516.2" font-size="7.6" font-style="italic" fill="#222" textLength="49.6" lengthAdjust="spacingAndGlyphs">Excluded from</text>
<text x="205.3" y="524.4" font-size="7.6" font-style="italic" fill="#222" textLength="59.4" lengthAdjust="spacingAndGlyphs">algorithm training</text>
<text x="389.6" y="522.7" font-size="13" text-anchor="middle" fill="#222">Ground truth</text>
<line x1="353.3" y1="524.4" x2="425.9" y2="524.4" stroke="#222" stroke-width="1.1"/>
<text x="546.2" y="523" font-size="13" text-anchor="middle" fill="#222">Algorithm output</text>
<line x1="499.4" y1="524.6" x2="593" y2="524.6" stroke="#222" stroke-width="1.1"/>
<text x="73.3" y="547.4" font-size="10.5" fill="#222">Day with <tspan font-weight="bold" font-style="italic">confirmed</tspan></text>
<text x="73.3" y="559.2" font-size="10.5" fill="#222" font-weight="bold" font-style="italic">complication</text>
<text x="188.1" y="546.8" font-size="10.5" fill="#222">Day with <tspan font-weight="bold" font-style="italic">abnormal</tspan></text>
<text x="188.1" y="558.9" font-size="10.5" fill="#222"><tspan font-weight="bold" font-style="italic">symptoms</tspan> (Grade 1+)</text>
<text x="344.5" y="546.7" font-size="10.5" fill="#222">1-2 days prior to</text>
<text x="344.5" y="559" font-size="10.5" fill="#222">complication/symptom</text>
<text x="515.1" y="547" font-size="10.5" fill="#222">Day predicted as</text>
<text x="515.1" y="558.8" font-size="10.5" fill="#222"><tspan font-weight="bold" font-style="italic">abnormal</tspan> recovery</text>
</svg></body></html>
